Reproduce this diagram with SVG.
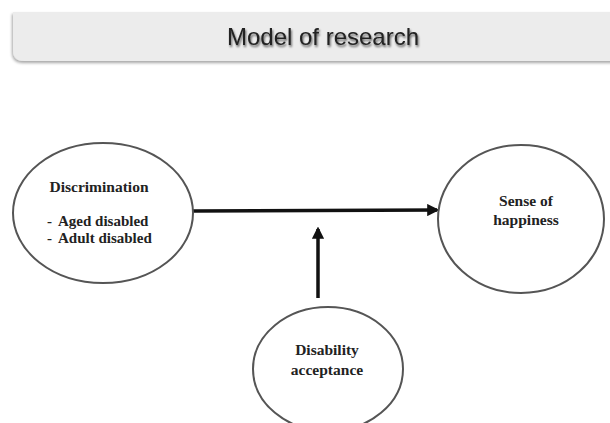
<svg xmlns="http://www.w3.org/2000/svg" width="610" height="423" viewBox="0 0 610 423">
<defs>
<style>
.node{fill:#fff;stroke:#555;stroke-width:2}
.lbl{font-family:"Liberation Serif","Times New Roman",serif;font-weight:bold;font-size:15.5px;fill:#222}
.sm{font-size:15px}
.conn{stroke:#111;stroke-width:3.5;fill:none}
</style>
<marker id="ah" viewBox="0 0 10 10" refX="8" refY="5" markerWidth="3.5" markerHeight="3.5" orient="auto" markerUnits="strokeWidth">
<path d="M0,0 L10,5 L0,10 z" fill="#111"/>
</marker>
<filter id="ts" x="-10%" y="-30%" width="120%" height="160%">
<feGaussianBlur in="SourceAlpha" stdDeviation="1.2"/>
<feOffset dx="1" dy="1.5" result="b"/>
<feComponentTransfer><feFuncA type="linear" slope="0.6"/></feComponentTransfer>
<feMerge><feMergeNode/><feMergeNode in="SourceGraphic"/></feMerge>
</filter>
<filter id="bs" x="-5%" y="-20%" width="110%" height="150%">
<feGaussianBlur in="SourceAlpha" stdDeviation="1.5"/>
<feOffset dx="-1" dy="2"/>
<feComponentTransfer><feFuncA type="linear" slope="0.35"/></feComponentTransfer>
<feMerge><feMergeNode/><feMergeNode in="SourceGraphic"/></feMerge>
</filter>
</defs>
<rect width="610" height="423" fill="#fff"/>
<g id="title">
<path d="M24,12 H620 V61 H24 Q13,61 13,50 V12 Z" fill="#ececec" filter="url(#bs)"/>
<text x="323" y="45" text-anchor="middle" font-family="'Liberation Sans',Arial,sans-serif" font-size="24" fill="#222" filter="url(#ts)">Model of research</text>
</g>
<g id="connectors">
<line class="conn" x1="193" y1="211" x2="437" y2="210" marker-end="url(#ah)"/>
<line class="conn" x1="318" y1="298" x2="318" y2="229" marker-end="url(#ah)"/>
</g>
<g id="discrimination">
<ellipse class="node" cx="103" cy="213" rx="90" ry="70"/>
<text class="lbl" x="99" y="192" text-anchor="middle">Discrimination</text>
<text class="lbl sm" x="47" y="226">-</text>
<text class="lbl sm" x="58" y="226">Aged disabled</text>
<text class="lbl sm" x="47" y="243">-</text>
<text class="lbl sm" x="58" y="243">Adult disabled</text>
</g>
<g id="happiness">
<ellipse class="node" cx="521" cy="219" rx="83" ry="74"/>
<text class="lbl" x="526" y="206" text-anchor="middle">Sense of</text>
<text class="lbl" x="526" y="225" text-anchor="middle">happiness</text>
</g>
<g id="acceptance">
<ellipse class="node" cx="328" cy="369" rx="75" ry="62"/>
<text class="lbl" x="327" y="355" text-anchor="middle">Disability</text>
<text class="lbl" x="327" y="375" text-anchor="middle">acceptance</text>
</g>
</svg>
